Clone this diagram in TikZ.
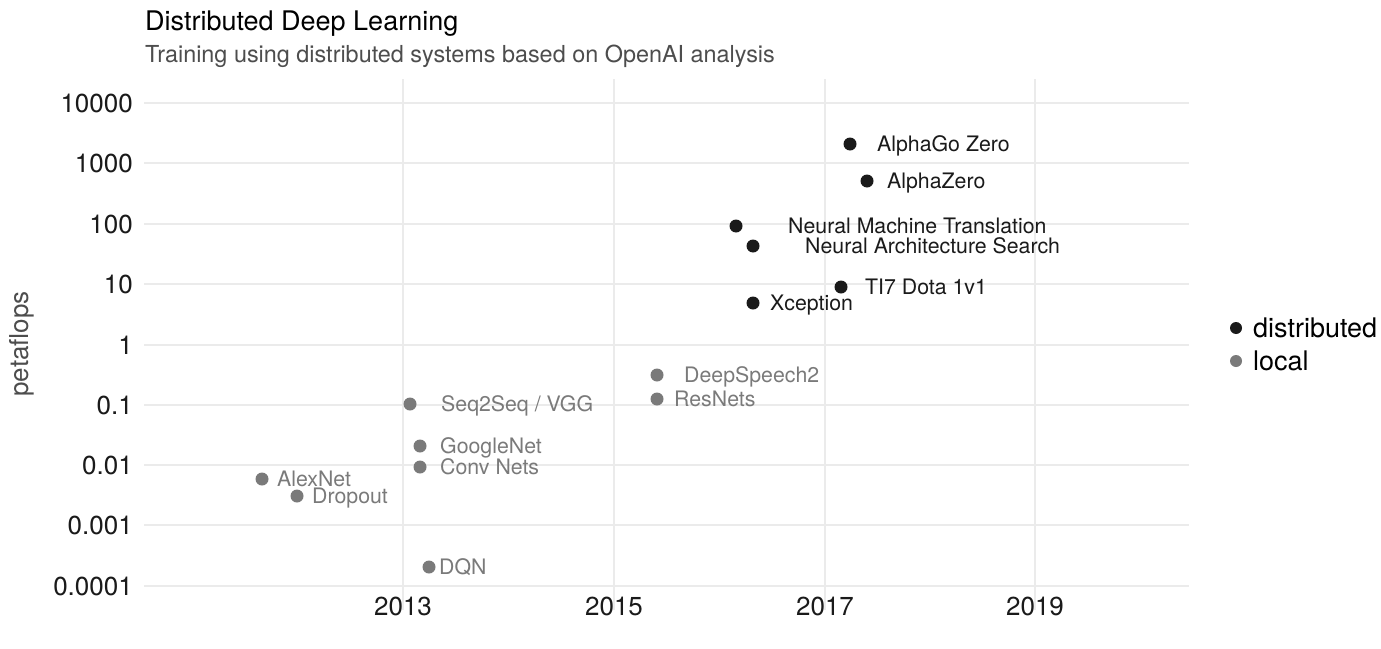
\documentclass[tikz,border=0pt]{standalone}
\usepackage{fontspec}
\setmainfont{TeX Gyre Heros}
\definecolor{gridc}{HTML}{EBEBEB}
\definecolor{distc}{HTML}{1A1A1A}
\definecolor{localc}{HTML}{7A7A7A}
\definecolor{subc}{HTML}{4D4D4D}
\begin{document}
\begin{tikzpicture}[x=1pt,y=-1pt,
  gridline/.style={draw=gridc, line width=1.6pt},
  ytick/.style={anchor=east, inner sep=0pt, font=\fontsize{26}{26}\selectfont, text=distc, text height=18.6pt, text depth=0pt},
  xtick/.style={anchor=north, inner sep=0pt, font=\fontsize{26}{26}\selectfont, text=distc},
  dpt/.style={circle, fill=distc, minimum size=13pt, inner sep=0pt},
  lpt/.style={circle, fill=localc, minimum size=13pt, inner sep=0pt},
  dlab/.style={anchor=west, inner sep=0pt, font=\fontsize{21.3}{21.3}\selectfont, text=distc, text height=15.2pt, text depth=0pt},
  llab/.style={anchor=west, inner sep=0pt, font=\fontsize{21.3}{21.3}\selectfont, text=localc, text height=15.2pt, text depth=0pt},
  legtext/.style={anchor=west, inner sep=0pt, font=\fontsize{27}{27}\selectfont, text=black, text height=19.3pt, text depth=0pt}
]
\useasboundingbox (0,0) rectangle (1381,648);
\fill[white] (0,0) rectangle (1381,648);

% panel grid
\foreach \gx in {403,614,825,1035} \draw[gridline] (\gx,79) -- (\gx,610);
\foreach \gy in {103,163,224,284,345,405,465,525,586} \draw[gridline] (144,\gy) -- (1189,\gy);

% y axis labels
\node[ytick] (y4) at (133,103) {10000};
\node[ytick] (y3) at (133,163) {1000};
\node[ytick] (y2) at (133,224) {100};
\node[ytick] (y1) at (133,284) {10};
\node[ytick] (y0) at (133,345) {1};
\node[ytick] (ym1) at (133,405) {0.1};
\node[ytick] (ym2) at (133,465) {0.01};
\node[ytick] (ym3) at (133,525) {0.001};
\node[ytick] (ym4) at (133,586) {0.0001};

% x axis labels
\node[xtick] (x13) at (403,597) {2013};
\node[xtick] (x15) at (614,597) {2015};
\node[xtick] (x17) at (825,597) {2017};
\node[xtick] (x19) at (1035,597) {2019};

% axis title
\node[rotate=90, inner sep=0pt, font=\fontsize{26}{26}\selectfont, text=subc] (ytitle) at (22,344) {petaflops};

% title and subtitle
\node[anchor=base west, inner sep=0pt, font=\fontsize{27}{27}\selectfont, text=black] (title) at (145,30) {Distributed Deep Learning};
\node[anchor=base west, inner sep=0pt, font=\fontsize{23.4}{23.4}\selectfont, text=subc] (subtitle) at (145,62) {Training using distributed systems based on OpenAI analysis};

% distributed systems
\node[dpt] (agz) at (850,144) {};   \node[dlab] (agzl) at (877,144) {AlphaGo Zero};
\node[dpt] (az) at (867,181) {};    \node[dlab] (azl) at (887,181) {AlphaZero};
\node[dpt] (nmt) at (736,226) {};   \node[dlab] (nmtl) at (788,226) {Neural Machine Translation};
\node[dpt] (nas) at (753,246) {};   \node[dlab] (nasl) at (805,246) {Neural Architecture Search};
\node[dpt] (dota) at (841,287) {};  \node[dlab] (dotal) at (865,287) {TI7 Dota 1v1};
\node[dpt] (xcp) at (753,303) {};   \node[dlab] (xcpl) at (770,303) {Xception};

% local systems
\node[lpt] (ds2) at (657,375) {};   \node[llab] (ds2l) at (684,375) {DeepSpeech2};
\node[lpt] (res) at (657,399) {};   \node[llab] (resl) at (674,399) {ResNets};
\node[lpt] (s2s) at (410,404) {};   \node[llab] (s2sl) at (441,404) {Seq2Seq / VGG};
\node[lpt] (gnet) at (420,446) {};  \node[llab] (gnetl) at (440,446) {GoogleNet};
\node[lpt] (conv) at (420,467) {};  \node[llab] (convl) at (440,467) {Conv Nets};
\node[lpt] (alex) at (262,479) {};  \node[llab] (alexl) at (277,479) {AlexNet};
\node[lpt] (drop) at (297,496) {};  \node[llab] (dropl) at (312,496) {Dropout};
\node[lpt] (dqn) at (429,567) {};   \node[llab] (dqnl) at (439,567) {DQN};

% legend
\node[circle, fill=distc, minimum size=12pt, inner sep=0pt] (kd) at (1236,328) {};
\node[legtext] (kdl) at (1253,328) {distributed};
\node[circle, fill=localc, minimum size=12pt, inner sep=0pt] (kl) at (1236,361) {};
\node[legtext] (kll) at (1253,361) {local};
\end{tikzpicture}
\end{document}
